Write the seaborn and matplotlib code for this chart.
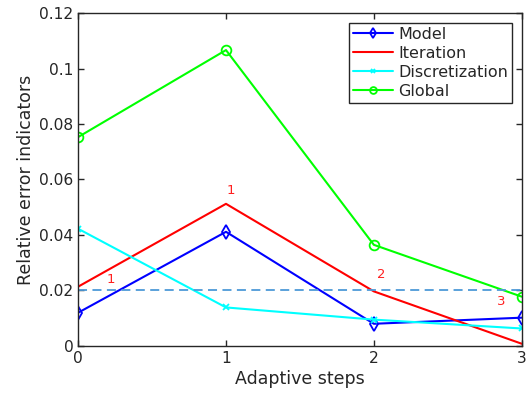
import matplotlib
matplotlib.use("Agg")
import matplotlib.pyplot as plt
import seaborn as sns
import pandas as pd

steps = [0, 1, 2, 3]
model = [0.0119, 0.0411, 0.0079, 0.0101]
iteration = [0.0213, 0.0512, 0.0196, 0.0007]
discretization = [0.0422, 0.0138, 0.0094, 0.0062]
global_err = [0.0753, 0.1067, 0.0364, 0.0177]
threshold = 0.02
ann_x = [0.22, 1.03, 2.05, 2.86]
ann_y = [0.0238, 0.0560, 0.0256, 0.0159]
ann_txt = ["1", "1", "2", "3"]

sns.set_style("ticks")
plt.rcParams['font.family'] = ['DejaVu Sans']

fig = plt.figure(figsize=(5.28, 4.01), dpi=100)
ax = fig.add_axes([0.148, 0.138, 0.840, 0.829])

series = [
    ("Model", model, "#0000ff", "d", 7),
    ("Iteration", iteration, "#ff0000", None, 0),
    ("Discretization", discretization, "#00ffff", "x", 5),
    ("Global", global_err, "#00ff00", "o", 7),
]
for name, vals, col, mk, ms in series:
    df = pd.DataFrame({"x": steps, "y": vals})
    kw = dict(marker=mk, markersize=ms, markerfacecolor="none",
              markeredgecolor=col, markeredgewidth=1.3) if mk else {}
    sns.lineplot(data=df, x="x", y="y", ax=ax, color=col, linewidth=1.5,
                 label=name, **kw)

ax.axhline(threshold, color="#4d9ad8", linestyle=(0, (5, 3)), linewidth=1.3)
for tx, ty, t in zip(ann_x, ann_y, ann_txt):
    ax.text(tx, ty, t, color="#ff2020", fontsize=9.5, ha="center", va="center")

ax.set_xlim(0, 3)
ax.set_ylim(0, 0.12)
ax.set_xticks([0, 1, 2, 3])
ax.set_yticks([0, 0.02, 0.04, 0.06, 0.08, 0.1, 0.12])
ax.set_yticklabels(["0", "0.02", "0.04", "0.06", "0.08", "0.1", "0.12"])
ax.set_xlabel("Adaptive steps", fontsize=12.5, color="#262626", labelpad=3)
ax.set_ylabel("Relative error indicators", fontsize=12.5, color="#262626", labelpad=3)
ax.tick_params(direction="in", top=True, right=True, labelsize=11.2,
               colors="#262626", length=4, width=1)
for s in ax.spines.values():
    s.set_visible(True)
    s.set_color("#262626")
    s.set_linewidth(1)

leg = ax.legend(loc="upper right", fontsize=11.5, frameon=True, fancybox=False,
                edgecolor="#262626", framealpha=1, borderpad=0.25,
                labelspacing=0.25, handlelength=2.5, handletextpad=0.3,
                borderaxespad=0.6, markerscale=0.7)
leg.get_frame().set_linewidth(1)
for t in leg.get_texts():
    t.set_color("#262626")

fig.savefig("out.png", dpi=100)
